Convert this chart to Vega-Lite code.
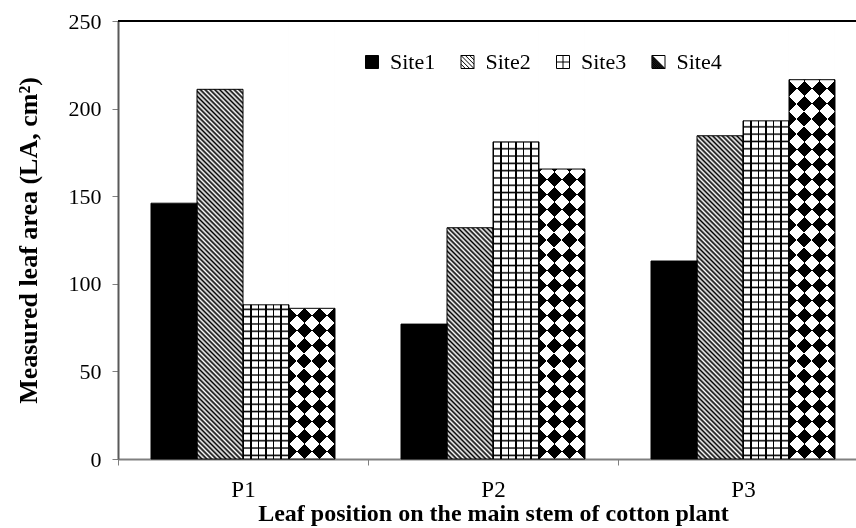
{
"$schema": "https://vega.github.io/schema/vega-lite/v6.json",
"width": 738, "height": 438,
"autosize": {"type": "none"},
"padding": {"left": 118, "top": 21, "right": 0, "bottom": 69},
"background": "white",
"config": {"font": "Liberation Serif", "view": {"stroke": null}},
"data": {"values": [
{"pos": "P1", "site": "Site1", "value": 146},
{"pos": "P1", "site": "Site2", "value": 211},
{"pos": "P1", "site": "Site3", "value": 88},
{"pos": "P1", "site": "Site4", "value": 86},
{"pos": "P2", "site": "Site1", "value": 77},
{"pos": "P2", "site": "Site2", "value": 132},
{"pos": "P2", "site": "Site3", "value": 181},
{"pos": "P2", "site": "Site4", "value": 165.5},
{"pos": "P3", "site": "Site1", "value": 113},
{"pos": "P3", "site": "Site2", "value": 184.5},
{"pos": "P3", "site": "Site3", "value": 193},
{"pos": "P3", "site": "Site4", "value": 216.5}
]},
"layer": [
{
"encoding": {
"x": {"field": "pos", "type": "nominal", "scale": {"range": [0, 750], "paddingInner": 0, "paddingOuter": 0},
 "axis": {"title": "Leaf position on the main stem of cotton plant", "tickBand": "extent", "labelAngle": 0, "domainColor": "#808080", "domainWidth": 2, "tickColor": "#808080", "tickWidth": 1, "tickSize": 6, "labelFontSize": 23, "labelColor": "#000", "labelPadding": 13, "titleFontSize": 24, "titleFontWeight": "bold", "titleColor": "#000", "titlePadding": 0, "grid": false}},
"xOffset": {"field": "site", "type": "nominal", "scale": {"domain": ["Site1", "Site2", "Site3", "Site4"], "paddingInner": 0, "paddingOuter": 0.7174}}
},
"layer": [
{"mark": {"type": "bar"},
 "encoding": {
  "y": {"field": "value", "type": "quantitative", "scale": {"domain": [0, 250], "nice": false},
   "axis": {"title": "Measured leaf area (LA, cm²)", "values": [0, 50, 100, 150, 200, 250], "domainColor": "#595959", "domainWidth": 2, "tickColor": "#808080", "tickWidth": 1, "tickSize": 6, "labelFontSize": 22, "labelColor": "#000", "labelPadding": 11, "titleFontSize": 26, "titleFontWeight": "bold", "titleColor": "#000", "titlePadding": 27, "grid": false}},
  "fill": {"field": "site", "type": "nominal", "scale": {"domain": ["Site1", "Site2", "Site3", "Site4"], "range": ["#000", "#fff", "#fff", "#fff"]},
   "legend": {"title": null, "orient": "none", "legendX": 243, "legendY": 30, "direction": "horizontal", "labelFontSize": 22, "labelFont": "Liberation Serif", "labelColor": "#000", "labelOffset": 7, "columnPadding": 20.5, "symbolSize": 169, "symbolStrokeWidth": 1, "symbolStrokeColor": "#000", "padding": 0,
    "encode": {"symbols": {"update": {
     "shape": [{"test": "datum.value === 'Site2'", "value": "M-1,-1H1V1H-1Z M-1,-1L1,1 M-1,-0.33L0.33,1 M-1,0.33L-0.33,1 M-0.33,-1L1,0.33 M0.33,-1L1,-0.33"}, {"test": "datum.value === 'Site3'", "value": "M-1,-1H1V1H-1Z M0,-1V1 M-1,0H1"}, {"test": "datum.value === 'Site4'", "value": "M-1,-1H1V1H-1Z M-1,-1L1,1 M-1,-0.9L0.9,1 M-1,-0.8L0.8,1 M-1,-0.7L0.7,1 M-1,-0.6L0.6,1 M-1,-0.5L0.5,1 M-1,-0.4L0.4,1 M-1,-0.3L0.3,1 M-1,-0.2L0.2,1 M-1,-0.1L0.1,1 M-1,0L0,1 M-1,0.1L-0.1,1 M-1,0.2L-0.2,1 M-1,0.3L-0.3,1 M-1,0.4L-0.4,1 M-1,0.5L-0.5,1 M-1,0.6L-0.6,1 M-1,0.7L-0.7,1 M-1,0.8L-0.8,1 M-1,0.9L-0.9,1"}, {"value": "square"}],
     "stroke": {"value": "#000"},
     "strokeWidth": {"value": 1}
    }}}}}
 }},
{"transform": [{"filter": "datum.site === 'Site2'"}],
 "mark": {"type": "bar", "fill": {"gradient": "linear", "x1": 0, "y1": 1, "x2": 0.114786, "y2": -0.09296, "stops": [
{"offset":0,"color":"#000"},{"offset":0.005,"color":"#fff"},{"offset":0.01,"color":"#000"},{"offset":0.015,"color":"#fff"},{"offset":0.02,"color":"#000"},{"offset":0.025,"color":"#fff"},{"offset":0.03,"color":"#000"},{"offset":0.035,"color":"#fff"},{"offset":0.04,"color":"#000"},{"offset":0.045,"color":"#fff"},{"offset":0.05,"color":"#000"},{"offset":0.055,"color":"#fff"},{"offset":0.06,"color":"#000"},{"offset":0.065,"color":"#fff"},{"offset":0.07,"color":"#000"},{"offset":0.075,"color":"#fff"},{"offset":0.08,"color":"#000"},{"offset":0.085,"color":"#fff"},{"offset":0.09,"color":"#000"},{"offset":0.095,"color":"#fff"},
{"offset":0.1,"color":"#000"},{"offset":0.105,"color":"#fff"},{"offset":0.11,"color":"#000"},{"offset":0.115,"color":"#fff"},{"offset":0.12,"color":"#000"},{"offset":0.125,"color":"#fff"},{"offset":0.13,"color":"#000"},{"offset":0.135,"color":"#fff"},{"offset":0.14,"color":"#000"},{"offset":0.145,"color":"#fff"},{"offset":0.15,"color":"#000"},{"offset":0.155,"color":"#fff"},{"offset":0.16,"color":"#000"},{"offset":0.165,"color":"#fff"},{"offset":0.17,"color":"#000"},{"offset":0.175,"color":"#fff"},{"offset":0.18,"color":"#000"},{"offset":0.185,"color":"#fff"},{"offset":0.19,"color":"#000"},{"offset":0.195,"color":"#fff"},
{"offset":0.2,"color":"#000"},{"offset":0.205,"color":"#fff"},{"offset":0.21,"color":"#000"},{"offset":0.215,"color":"#fff"},{"offset":0.22,"color":"#000"},{"offset":0.225,"color":"#fff"},{"offset":0.23,"color":"#000"},{"offset":0.235,"color":"#fff"},{"offset":0.24,"color":"#000"},{"offset":0.245,"color":"#fff"},{"offset":0.25,"color":"#000"},{"offset":0.255,"color":"#fff"},{"offset":0.26,"color":"#000"},{"offset":0.265,"color":"#fff"},{"offset":0.27,"color":"#000"},{"offset":0.275,"color":"#fff"},{"offset":0.28,"color":"#000"},{"offset":0.285,"color":"#fff"},{"offset":0.29,"color":"#000"},{"offset":0.295,"color":"#fff"},
{"offset":0.3,"color":"#000"},{"offset":0.305,"color":"#fff"},{"offset":0.31,"color":"#000"},{"offset":0.315,"color":"#fff"},{"offset":0.32,"color":"#000"},{"offset":0.325,"color":"#fff"},{"offset":0.33,"color":"#000"},{"offset":0.335,"color":"#fff"},{"offset":0.34,"color":"#000"},{"offset":0.345,"color":"#fff"},{"offset":0.35,"color":"#000"},{"offset":0.355,"color":"#fff"},{"offset":0.36,"color":"#000"},{"offset":0.365,"color":"#fff"},{"offset":0.37,"color":"#000"},{"offset":0.375,"color":"#fff"},{"offset":0.38,"color":"#000"},{"offset":0.385,"color":"#fff"},{"offset":0.39,"color":"#000"},{"offset":0.395,"color":"#fff"},
{"offset":0.4,"color":"#000"},{"offset":0.405,"color":"#fff"},{"offset":0.41,"color":"#000"},{"offset":0.415,"color":"#fff"},{"offset":0.42,"color":"#000"},{"offset":0.425,"color":"#fff"},{"offset":0.43,"color":"#000"},{"offset":0.435,"color":"#fff"},{"offset":0.44,"color":"#000"},{"offset":0.445,"color":"#fff"},{"offset":0.45,"color":"#000"},{"offset":0.455,"color":"#fff"},{"offset":0.46,"color":"#000"},{"offset":0.465,"color":"#fff"},{"offset":0.47,"color":"#000"},{"offset":0.475,"color":"#fff"},{"offset":0.48,"color":"#000"},{"offset":0.485,"color":"#fff"},{"offset":0.49,"color":"#000"},{"offset":0.495,"color":"#fff"},
{"offset":0.5,"color":"#000"},{"offset":0.505,"color":"#fff"},{"offset":0.51,"color":"#000"},{"offset":0.515,"color":"#fff"},{"offset":0.52,"color":"#000"},{"offset":0.525,"color":"#fff"},{"offset":0.53,"color":"#000"},{"offset":0.535,"color":"#fff"},{"offset":0.54,"color":"#000"},{"offset":0.545,"color":"#fff"},{"offset":0.55,"color":"#000"},{"offset":0.555,"color":"#fff"},{"offset":0.56,"color":"#000"},{"offset":0.565,"color":"#fff"},{"offset":0.57,"color":"#000"},{"offset":0.575,"color":"#fff"},{"offset":0.58,"color":"#000"},{"offset":0.585,"color":"#fff"},{"offset":0.59,"color":"#000"},{"offset":0.595,"color":"#fff"},
{"offset":0.6,"color":"#000"},{"offset":0.605,"color":"#fff"},{"offset":0.61,"color":"#000"},{"offset":0.615,"color":"#fff"},{"offset":0.62,"color":"#000"},{"offset":0.625,"color":"#fff"},{"offset":0.63,"color":"#000"},{"offset":0.635,"color":"#fff"},{"offset":0.64,"color":"#000"},{"offset":0.645,"color":"#fff"},{"offset":0.65,"color":"#000"},{"offset":0.655,"color":"#fff"},{"offset":0.66,"color":"#000"},{"offset":0.665,"color":"#fff"},{"offset":0.67,"color":"#000"},{"offset":0.675,"color":"#fff"},{"offset":0.68,"color":"#000"},{"offset":0.685,"color":"#fff"},{"offset":0.69,"color":"#000"},{"offset":0.695,"color":"#fff"},
{"offset":0.7,"color":"#000"},{"offset":0.705,"color":"#fff"},{"offset":0.71,"color":"#000"},{"offset":0.715,"color":"#fff"},{"offset":0.72,"color":"#000"},{"offset":0.725,"color":"#fff"},{"offset":0.73,"color":"#000"},{"offset":0.735,"color":"#fff"},{"offset":0.74,"color":"#000"},{"offset":0.745,"color":"#fff"},{"offset":0.75,"color":"#000"},{"offset":0.755,"color":"#fff"},{"offset":0.76,"color":"#000"},{"offset":0.765,"color":"#fff"},{"offset":0.77,"color":"#000"},{"offset":0.775,"color":"#fff"},{"offset":0.78,"color":"#000"},{"offset":0.785,"color":"#fff"},{"offset":0.79,"color":"#000"},{"offset":0.795,"color":"#fff"},
{"offset":0.8,"color":"#000"},{"offset":0.805,"color":"#fff"},{"offset":0.81,"color":"#000"},{"offset":0.815,"color":"#fff"},{"offset":0.82,"color":"#000"},{"offset":0.825,"color":"#fff"},{"offset":0.83,"color":"#000"},{"offset":0.835,"color":"#fff"},{"offset":0.84,"color":"#000"},{"offset":0.845,"color":"#fff"},{"offset":0.85,"color":"#000"},{"offset":0.855,"color":"#fff"},{"offset":0.86,"color":"#000"},{"offset":0.865,"color":"#fff"},{"offset":0.87,"color":"#000"},{"offset":0.875,"color":"#fff"},{"offset":0.88,"color":"#000"},{"offset":0.885,"color":"#fff"},{"offset":0.89,"color":"#000"},{"offset":0.895,"color":"#fff"},
{"offset":0.9,"color":"#000"},{"offset":0.905,"color":"#fff"},{"offset":0.91,"color":"#000"},{"offset":0.915,"color":"#fff"},{"offset":0.92,"color":"#000"},{"offset":0.925,"color":"#fff"},{"offset":0.93,"color":"#000"},{"offset":0.935,"color":"#fff"},{"offset":0.94,"color":"#000"},{"offset":0.945,"color":"#fff"},{"offset":0.95,"color":"#000"},{"offset":0.955,"color":"#fff"},{"offset":0.96,"color":"#000"},{"offset":0.965,"color":"#fff"},{"offset":0.97,"color":"#000"},{"offset":0.975,"color":"#fff"},{"offset":0.98,"color":"#000"},{"offset":0.985,"color":"#fff"},{"offset":0.99,"color":"#000"},{"offset":0.995,"color":"#fff"},
{"offset":1,"color":"#000"}
 ]}},
 "encoding": {"y": {"datum": 250}, "y2": {"datum": 0}}},
{"transform": [{"filter": "datum.site === 'Site3'"}],
 "mark": {"type": "bar", "fill": {"gradient": "linear", "x1": 0, "y1": 0, "x2": 1, "y2": 0, "stops": [
{"offset":0,"color":"#000"},{"offset":0.0326,"color":"#000"},{"offset":0.0326,"color":"transparent"},
{"offset":0.1613,"color":"transparent"},{"offset":0.1613,"color":"#000"},{"offset":0.1939,"color":"#000"},{"offset":0.1939,"color":"transparent"},
{"offset":0.3224,"color":"transparent"},{"offset":0.3224,"color":"#000"},{"offset":0.355,"color":"#000"},{"offset":0.355,"color":"transparent"},
{"offset":0.4837,"color":"transparent"},{"offset":0.4837,"color":"#000"},{"offset":0.5163,"color":"#000"},{"offset":0.5163,"color":"transparent"},
{"offset":0.645,"color":"transparent"},{"offset":0.645,"color":"#000"},{"offset":0.6776,"color":"#000"},{"offset":0.6776,"color":"transparent"},
{"offset":0.8061,"color":"transparent"},{"offset":0.8061,"color":"#000"},{"offset":0.8387,"color":"#000"},{"offset":0.8387,"color":"transparent"},
{"offset":0.9674,"color":"transparent"},{"offset":0.9674,"color":"#000"},{"offset":1,"color":"#000"}
 ]}},
 "encoding": {"y": {"datum": 250}, "y2": {"datum": 0}}},
{"transform": [{"filter": "datum.site === 'Site3'"}],
 "mark": {"type": "bar", "fill": {"gradient": "linear", "x1": 0, "y1": 0, "x2": 0, "y2": 1, "stops": [
{"offset":0.0049,"color":"transparent"},{"offset":0.0083,"color":"#000"},{"offset":0.0117,"color":"transparent"},{"offset":0.0216,"color":"transparent"},{"offset":0.025,"color":"#000"},{"offset":0.0284,"color":"transparent"},{"offset":0.0383,"color":"transparent"},{"offset":0.0417,"color":"#000"},{"offset":0.0451,"color":"transparent"},{"offset":0.0549,"color":"transparent"},{"offset":0.0583,"color":"#000"},{"offset":0.0617,"color":"transparent"},{"offset":0.0716,"color":"transparent"},{"offset":0.075,"color":"#000"},{"offset":0.0784,"color":"transparent"},{"offset":0.0883,"color":"transparent"},{"offset":0.0917,"color":"#000"},{"offset":0.0951,"color":"transparent"},
{"offset":0.1049,"color":"transparent"},{"offset":0.1083,"color":"#000"},{"offset":0.1117,"color":"transparent"},{"offset":0.1216,"color":"transparent"},{"offset":0.125,"color":"#000"},{"offset":0.1284,"color":"transparent"},{"offset":0.1383,"color":"transparent"},{"offset":0.1417,"color":"#000"},{"offset":0.1451,"color":"transparent"},{"offset":0.1549,"color":"transparent"},{"offset":0.1583,"color":"#000"},{"offset":0.1617,"color":"transparent"},{"offset":0.1716,"color":"transparent"},{"offset":0.175,"color":"#000"},{"offset":0.1784,"color":"transparent"},{"offset":0.1883,"color":"transparent"},{"offset":0.1917,"color":"#000"},{"offset":0.1951,"color":"transparent"},
{"offset":0.2049,"color":"transparent"},{"offset":0.2083,"color":"#000"},{"offset":0.2117,"color":"transparent"},{"offset":0.2216,"color":"transparent"},{"offset":0.225,"color":"#000"},{"offset":0.2284,"color":"transparent"},{"offset":0.2383,"color":"transparent"},{"offset":0.2417,"color":"#000"},{"offset":0.2451,"color":"transparent"},{"offset":0.2549,"color":"transparent"},{"offset":0.2583,"color":"#000"},{"offset":0.2617,"color":"transparent"},{"offset":0.2716,"color":"transparent"},{"offset":0.275,"color":"#000"},{"offset":0.2784,"color":"transparent"},{"offset":0.2883,"color":"transparent"},{"offset":0.2917,"color":"#000"},{"offset":0.2951,"color":"transparent"},
{"offset":0.3049,"color":"transparent"},{"offset":0.3083,"color":"#000"},{"offset":0.3117,"color":"transparent"},{"offset":0.3216,"color":"transparent"},{"offset":0.325,"color":"#000"},{"offset":0.3284,"color":"transparent"},{"offset":0.3383,"color":"transparent"},{"offset":0.3417,"color":"#000"},{"offset":0.3451,"color":"transparent"},{"offset":0.3549,"color":"transparent"},{"offset":0.3583,"color":"#000"},{"offset":0.3617,"color":"transparent"},{"offset":0.3716,"color":"transparent"},{"offset":0.375,"color":"#000"},{"offset":0.3784,"color":"transparent"},{"offset":0.3883,"color":"transparent"},{"offset":0.3917,"color":"#000"},{"offset":0.3951,"color":"transparent"},
{"offset":0.4049,"color":"transparent"},{"offset":0.4083,"color":"#000"},{"offset":0.4117,"color":"transparent"},{"offset":0.4216,"color":"transparent"},{"offset":0.425,"color":"#000"},{"offset":0.4284,"color":"transparent"},{"offset":0.4383,"color":"transparent"},{"offset":0.4417,"color":"#000"},{"offset":0.4451,"color":"transparent"},{"offset":0.4549,"color":"transparent"},{"offset":0.4583,"color":"#000"},{"offset":0.4617,"color":"transparent"},{"offset":0.4716,"color":"transparent"},{"offset":0.475,"color":"#000"},{"offset":0.4784,"color":"transparent"},{"offset":0.4883,"color":"transparent"},{"offset":0.4917,"color":"#000"},{"offset":0.4951,"color":"transparent"},
{"offset":0.5049,"color":"transparent"},{"offset":0.5083,"color":"#000"},{"offset":0.5117,"color":"transparent"},{"offset":0.5216,"color":"transparent"},{"offset":0.525,"color":"#000"},{"offset":0.5284,"color":"transparent"},{"offset":0.5383,"color":"transparent"},{"offset":0.5417,"color":"#000"},{"offset":0.5451,"color":"transparent"},{"offset":0.5549,"color":"transparent"},{"offset":0.5583,"color":"#000"},{"offset":0.5617,"color":"transparent"},{"offset":0.5716,"color":"transparent"},{"offset":0.575,"color":"#000"},{"offset":0.5784,"color":"transparent"},{"offset":0.5883,"color":"transparent"},{"offset":0.5917,"color":"#000"},{"offset":0.5951,"color":"transparent"},
{"offset":0.6049,"color":"transparent"},{"offset":0.6083,"color":"#000"},{"offset":0.6117,"color":"transparent"},{"offset":0.6216,"color":"transparent"},{"offset":0.625,"color":"#000"},{"offset":0.6284,"color":"transparent"},{"offset":0.6383,"color":"transparent"},{"offset":0.6417,"color":"#000"},{"offset":0.6451,"color":"transparent"},{"offset":0.6549,"color":"transparent"},{"offset":0.6583,"color":"#000"},{"offset":0.6617,"color":"transparent"},{"offset":0.6716,"color":"transparent"},{"offset":0.675,"color":"#000"},{"offset":0.6784,"color":"transparent"},{"offset":0.6883,"color":"transparent"},{"offset":0.6917,"color":"#000"},{"offset":0.6951,"color":"transparent"},
{"offset":0.7049,"color":"transparent"},{"offset":0.7083,"color":"#000"},{"offset":0.7117,"color":"transparent"},{"offset":0.7216,"color":"transparent"},{"offset":0.725,"color":"#000"},{"offset":0.7284,"color":"transparent"},{"offset":0.7383,"color":"transparent"},{"offset":0.7417,"color":"#000"},{"offset":0.7451,"color":"transparent"},{"offset":0.7549,"color":"transparent"},{"offset":0.7583,"color":"#000"},{"offset":0.7617,"color":"transparent"},{"offset":0.7716,"color":"transparent"},{"offset":0.775,"color":"#000"},{"offset":0.7784,"color":"transparent"},{"offset":0.7883,"color":"transparent"},{"offset":0.7917,"color":"#000"},{"offset":0.7951,"color":"transparent"},
{"offset":0.8049,"color":"transparent"},{"offset":0.8083,"color":"#000"},{"offset":0.8117,"color":"transparent"},{"offset":0.8216,"color":"transparent"},{"offset":0.825,"color":"#000"},{"offset":0.8284,"color":"transparent"},{"offset":0.8383,"color":"transparent"},{"offset":0.8417,"color":"#000"},{"offset":0.8451,"color":"transparent"},{"offset":0.8549,"color":"transparent"},{"offset":0.8583,"color":"#000"},{"offset":0.8617,"color":"transparent"},{"offset":0.8716,"color":"transparent"},{"offset":0.875,"color":"#000"},{"offset":0.8784,"color":"transparent"},{"offset":0.8883,"color":"transparent"},{"offset":0.8917,"color":"#000"},{"offset":0.8951,"color":"transparent"},
{"offset":0.9049,"color":"transparent"},{"offset":0.9083,"color":"#000"},{"offset":0.9117,"color":"transparent"},{"offset":0.9216,"color":"transparent"},{"offset":0.925,"color":"#000"},{"offset":0.9284,"color":"transparent"},{"offset":0.9383,"color":"transparent"},{"offset":0.9417,"color":"#000"},{"offset":0.9451,"color":"transparent"},{"offset":0.9549,"color":"transparent"},{"offset":0.9583,"color":"#000"},{"offset":0.9617,"color":"transparent"},{"offset":0.9716,"color":"transparent"},{"offset":0.975,"color":"#000"},{"offset":0.9784,"color":"transparent"},{"offset":0.9883,"color":"transparent"},{"offset":0.9917,"color":"#000"},{"offset":0.9951,"color":"transparent"}
 ]}},
 "encoding": {"y": {"datum": 250}, "y2": {"datum": 0}}},
{"transform": [{"filter": "datum.site === 'Site4'"}],
 "mark": {"type": "bar", "fill": "#000"},
 "encoding": {"y": {"datum": 250}, "y2": {"datum": 0}}},
{"transform": [{"filter": "datum.site === 'Site4'"}],
 "mark": {"type": "bar", "fill": {"gradient": "linear", "x1": 0, "y1": 1, "x2": 0.114786, "y2": -0.09296, "stops": [
{"offset":0,"color":"#fff"},{"offset":0.03125,"color":"#fff"},{"offset":0.03125,"color":"transparent"},{"offset":0.0625,"color":"transparent"},
{"offset":0.0625,"color":"#fff"},{"offset":0.09375,"color":"#fff"},{"offset":0.09375,"color":"transparent"},{"offset":0.125,"color":"transparent"},
{"offset":0.125,"color":"#fff"},{"offset":0.15625,"color":"#fff"},{"offset":0.15625,"color":"transparent"},{"offset":0.1875,"color":"transparent"},
{"offset":0.1875,"color":"#fff"},{"offset":0.21875,"color":"#fff"},{"offset":0.21875,"color":"transparent"},{"offset":0.25,"color":"transparent"},
{"offset":0.25,"color":"#fff"},{"offset":0.28125,"color":"#fff"},{"offset":0.28125,"color":"transparent"},{"offset":0.3125,"color":"transparent"},
{"offset":0.3125,"color":"#fff"},{"offset":0.34375,"color":"#fff"},{"offset":0.34375,"color":"transparent"},{"offset":0.375,"color":"transparent"},
{"offset":0.375,"color":"#fff"},{"offset":0.40625,"color":"#fff"},{"offset":0.40625,"color":"transparent"},{"offset":0.4375,"color":"transparent"},
{"offset":0.4375,"color":"#fff"},{"offset":0.46875,"color":"#fff"},{"offset":0.46875,"color":"transparent"},{"offset":0.5,"color":"transparent"},
{"offset":0.5,"color":"#fff"},{"offset":0.53125,"color":"#fff"},{"offset":0.53125,"color":"transparent"},{"offset":0.5625,"color":"transparent"},
{"offset":0.5625,"color":"#fff"},{"offset":0.59375,"color":"#fff"},{"offset":0.59375,"color":"transparent"},{"offset":0.625,"color":"transparent"},
{"offset":0.625,"color":"#fff"},{"offset":0.65625,"color":"#fff"},{"offset":0.65625,"color":"transparent"},{"offset":0.6875,"color":"transparent"},
{"offset":0.6875,"color":"#fff"},{"offset":0.71875,"color":"#fff"},{"offset":0.71875,"color":"transparent"},{"offset":0.75,"color":"transparent"},
{"offset":0.75,"color":"#fff"},{"offset":0.78125,"color":"#fff"},{"offset":0.78125,"color":"transparent"},{"offset":0.8125,"color":"transparent"},
{"offset":0.8125,"color":"#fff"},{"offset":0.84375,"color":"#fff"},{"offset":0.84375,"color":"transparent"},{"offset":0.875,"color":"transparent"},
{"offset":0.875,"color":"#fff"},{"offset":0.90625,"color":"#fff"},{"offset":0.90625,"color":"transparent"},{"offset":0.9375,"color":"transparent"},
{"offset":0.9375,"color":"#fff"},{"offset":0.96875,"color":"#fff"},{"offset":0.96875,"color":"transparent"},{"offset":1,"color":"transparent"}
 ]}},
 "encoding": {"y": {"datum": 250}, "y2": {"datum": 0}}},
{"transform": [{"filter": "datum.site === 'Site4'"}],
 "mark": {"type": "bar", "blend": "difference", "fill": {"gradient": "linear", "x1": 0, "y1": 0, "x2": 0.114786, "y2": 1.09296, "stops": [
{"offset":0,"color":"#fff"},{"offset":0.03125,"color":"#fff"},{"offset":0.03125,"color":"transparent"},{"offset":0.0625,"color":"transparent"},
{"offset":0.0625,"color":"#fff"},{"offset":0.09375,"color":"#fff"},{"offset":0.09375,"color":"transparent"},{"offset":0.125,"color":"transparent"},
{"offset":0.125,"color":"#fff"},{"offset":0.15625,"color":"#fff"},{"offset":0.15625,"color":"transparent"},{"offset":0.1875,"color":"transparent"},
{"offset":0.1875,"color":"#fff"},{"offset":0.21875,"color":"#fff"},{"offset":0.21875,"color":"transparent"},{"offset":0.25,"color":"transparent"},
{"offset":0.25,"color":"#fff"},{"offset":0.28125,"color":"#fff"},{"offset":0.28125,"color":"transparent"},{"offset":0.3125,"color":"transparent"},
{"offset":0.3125,"color":"#fff"},{"offset":0.34375,"color":"#fff"},{"offset":0.34375,"color":"transparent"},{"offset":0.375,"color":"transparent"},
{"offset":0.375,"color":"#fff"},{"offset":0.40625,"color":"#fff"},{"offset":0.40625,"color":"transparent"},{"offset":0.4375,"color":"transparent"},
{"offset":0.4375,"color":"#fff"},{"offset":0.46875,"color":"#fff"},{"offset":0.46875,"color":"transparent"},{"offset":0.5,"color":"transparent"},
{"offset":0.5,"color":"#fff"},{"offset":0.53125,"color":"#fff"},{"offset":0.53125,"color":"transparent"},{"offset":0.5625,"color":"transparent"},
{"offset":0.5625,"color":"#fff"},{"offset":0.59375,"color":"#fff"},{"offset":0.59375,"color":"transparent"},{"offset":0.625,"color":"transparent"},
{"offset":0.625,"color":"#fff"},{"offset":0.65625,"color":"#fff"},{"offset":0.65625,"color":"transparent"},{"offset":0.6875,"color":"transparent"},
{"offset":0.6875,"color":"#fff"},{"offset":0.71875,"color":"#fff"},{"offset":0.71875,"color":"transparent"},{"offset":0.75,"color":"transparent"},
{"offset":0.75,"color":"#fff"},{"offset":0.78125,"color":"#fff"},{"offset":0.78125,"color":"transparent"},{"offset":0.8125,"color":"transparent"},
{"offset":0.8125,"color":"#fff"},{"offset":0.84375,"color":"#fff"},{"offset":0.84375,"color":"transparent"},{"offset":0.875,"color":"transparent"},
{"offset":0.875,"color":"#fff"},{"offset":0.90625,"color":"#fff"},{"offset":0.90625,"color":"transparent"},{"offset":0.9375,"color":"transparent"},
{"offset":0.9375,"color":"#fff"},{"offset":0.96875,"color":"#fff"},{"offset":0.96875,"color":"transparent"},{"offset":1,"color":"transparent"}
 ]}},
 "encoding": {"y": {"datum": 250}, "y2": {"datum": 0}}},
{"mark": {"type": "bar", "fill": "#fff"},
 "encoding": {"y": {"field": "value", "type": "quantitative"}, "y2": {"datum": 250}}},
{"mark": {"type": "bar", "fill": "transparent", "stroke": "#000", "strokeWidth": 1},
 "encoding": {"y": {"field": "value", "type": "quantitative"}}}
]
},
{"mark": {"type": "rule", "color": "#000", "strokeWidth": 2},
 "encoding": {"y": {"datum": 250}}}
]
}
